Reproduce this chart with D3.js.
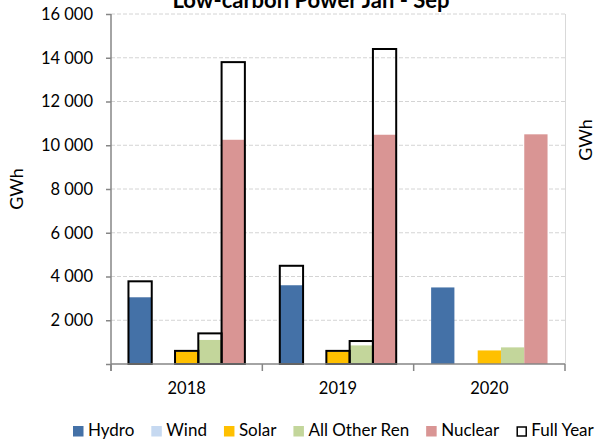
<!DOCTYPE html>
<html><head><meta charset="utf-8">
<script src="https://cdn.jsdelivr.net/npm/d3@7"></script>
<style>
html,body{margin:0;padding:0;background:#fff;}
svg{display:block;font-family:Lato,"Open Sans",sans-serif;}
</style></head>
<body>
<svg id="chart" width="595" height="443"></svg>
<script>
// ---- data ----
const years = ["2018", "2019", "2020"];
const seriesNames = ["Hydro", "Wind", "Solar", "All Other Ren", "Nuclear"];
const hydro   = [3050, 3600, 3500];
const wind    = [0, 0, 0];
const solar   = [560, 560, 620];
const otherRen= [1100, 850, 760];
const nuclear = [10250, 10480, 10500];
// full-year totals (outline bars), null where no full year yet
const fullHydro   = [3780, 4490, null];
const fullWind    = [0, 0, null];
const fullSolar   = [600, 600, null];
const fullOther   = [1400, 1050, null];
const fullNuclear = [13800, 14400, null];
const yTicks = [0, 2000, 4000, 6000, 8000, 10000, 12000, 14000, 16000];
const titleText = "Low-carbon Power Jan - Sep";
const yLabel = "GWh";
const legendLabels = ["Hydro", "Wind", "Solar", "All Other Ren", "Nuclear", "Full Year"];

const colors = ["#4471a7", "#c6d9f1", "#ffc000", "#c3d69b", "#d99594"];
const ytd = [hydro, wind, solar, otherRen, nuclear];
const full = [fullHydro, fullWind, fullSolar, fullOther, fullNuclear];

const svg = d3.select("#chart");
const mL = 111, mR = 565, mT = 14, mB = 364;

const y = d3.scaleLinear().domain([0, 16000]).range([mB, mT]);
const x0 = d3.scaleBand().domain(years).range([mL, mR]).paddingInner(0).paddingOuter(0);
const x1 = d3.scaleBand().domain(seriesNames).range([0, x0.bandwidth()]).paddingInner(0).paddingOuter(0.75);

const loc = d3.formatLocale({decimal: ".", thousands: "\u00a0", grouping: [3], currency: ["", ""]});
const fmt = loc.format(",");

// gridlines
svg.append("g").selectAll("line").data(yTicks.filter(d => d > 0)).join("line")
  .attr("x1", mL).attr("x2", mR)
  .attr("y1", d => y(d)).attr("y2", d => y(d))
  .attr("stroke", "#d4d4d4").attr("stroke-width", 1).attr("stroke-dasharray", "4,2");

// secondary (right) axis line
svg.append("line").attr("x1", mR + 0.5).attr("x2", mR + 0.5).attr("y1", mT).attr("y2", mB)
  .attr("stroke", "#d9d9d9").attr("stroke-width", 1);

// bars
const rows = [];
years.forEach((yr, i) => seriesNames.forEach((s, j) => rows.push({yr, s, j, v: ytd[j][i], f: full[j][i]})));

svg.append("g").selectAll("rect").data(rows.filter(d => d.v > 0)).join("rect")
  .attr("x", d => x0(d.yr) + x1(d.s))
  .attr("width", x1.bandwidth())
  .attr("y", d => y(d.v))
  .attr("height", d => y(0) - y(d.v))
  .attr("fill", d => colors[d.j]);

svg.append("g").selectAll("rect").data(rows.filter(d => d.f != null && d.f > 0)).join("rect")
  .attr("x", d => x0(d.yr) + x1(d.s))
  .attr("width", x1.bandwidth())
  .attr("y", d => y(d.f))
  .attr("height", d => y(0) - y(d.f))
  .attr("fill", "none").attr("stroke", "#000").attr("stroke-width", 2);

// y axis
const yAxis = d3.axisLeft(y).tickValues(yTicks).tickSize(5).tickPadding(13)
  .tickFormat(d => d === 0 ? "" : fmt(d));
const gy = svg.append("g").attr("transform", `translate(${mL},0)`).call(yAxis);
gy.select(".domain").remove();
gy.selectAll(".tick line").attr("stroke", "#868686").attr("stroke-width", 1.5);
gy.selectAll("text").attr("font-size", 16.5).attr("fill", "#000").attr("font-family", "Lato");
svg.append("line").attr("x1", mL).attr("x2", mL).attr("y1", mT).attr("y2", mB + 7)
  .attr("stroke", "#868686").attr("stroke-width", 1.5);

// x axis
svg.append("line").attr("x1", mL).attr("x2", mR).attr("y1", mB).attr("y2", mB)
  .attr("stroke", "#868686").attr("stroke-width", 1.5);
const bounds = years.map(d => x0(d)).concat([x0(years[years.length - 1]) + x0.bandwidth()]);
svg.append("g").selectAll("line").data(bounds).join("line")
  .attr("x1", d => d).attr("x2", d => d).attr("y1", mB).attr("y2", mB + 7)
  .attr("stroke", "#868686").attr("stroke-width", 1.5);
svg.append("g").selectAll("text").data(years).join("text")
  .attr("x", d => x0(d) + x0.bandwidth() / 2).attr("y", 394)
  .attr("text-anchor", "middle").attr("font-size", 16.5).attr("fill", "#000").text(d => d);

// axis titles
svg.append("text").attr("transform", "translate(23,189) rotate(-90)")
  .attr("text-anchor", "middle").attr("font-size", 18).attr("fill", "#000").text(yLabel);
svg.append("text").attr("transform", "translate(592,140) rotate(-90)")
  .attr("text-anchor", "middle").attr("font-size", 18).attr("fill", "#000").text(yLabel);

// title (partly above the top edge, as in the reference)
svg.append("text").attr("x", 311).attr("y", 8).attr("text-anchor", "middle")
  .attr("font-size", 22).attr("font-weight", "bold").attr("fill", "#000").text(titleText);

// legend
const lg = svg.append("g");
let lx = 73;
legendLabels.forEach((lab, i) => {
  const isFull = i === 5;
  lg.append("rect").attr("x", isFull ? lx + 1 : lx).attr("y", isFull ? 427 : 426)
    .attr("width", isFull ? 9 : 10.5).attr("height", isFull ? 9 : 10.5)
    .attr("fill", isFull ? "none" : colors[i])
    .attr("stroke", isFull ? "#000" : "none").attr("stroke-width", isFull ? 1.5 : 0);
  const t = lg.append("text").attr("x", lx + 15).attr("y", 436).attr("font-size", 17)
    .attr("fill", "#000").text(lab);
  lx += 15 + t.node().getComputedTextLength() + 17;
});
</script>
</body></html>
